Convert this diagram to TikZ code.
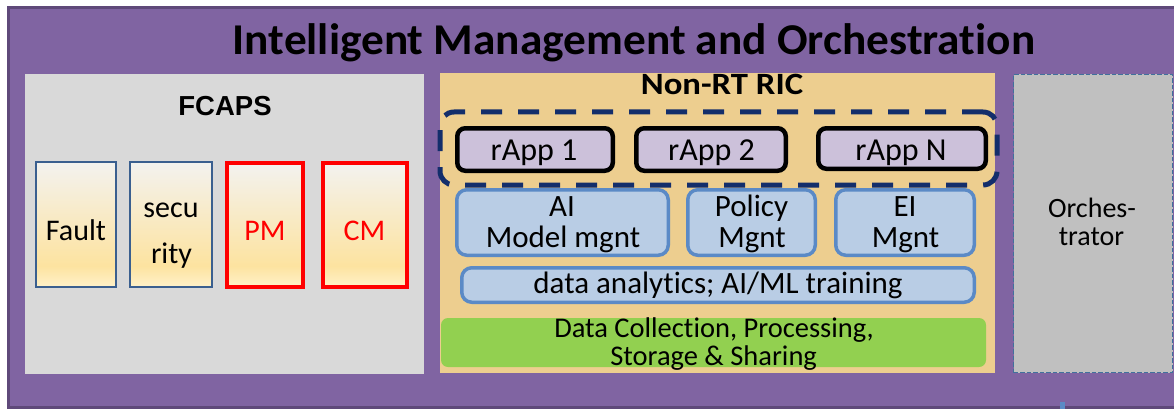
\documentclass[tikz,border=0pt]{standalone}
\usepackage{fontspec}
\setmainfont{Carlito}[Ligatures=NoCommon]
\newfontfamily\arialfont{Liberation Sans}
\definecolor{purp}{HTML}{8064A2}
\definecolor{purpdark}{HTML}{5F497A}
\definecolor{fcgray}{HTML}{D9D9D9}
\definecolor{ricTan}{HTML}{EDCE8F}
\definecolor{orchgray}{HTML}{C0C0C0}
\definecolor{orchline}{HTML}{41719C}
\definecolor{navy}{HTML}{132E6B}
\definecolor{lav}{HTML}{CCC1DA}
\definecolor{lblue}{HTML}{B9CDE5}
\definecolor{mblue}{HTML}{5B8AC6}
\definecolor{dblue}{HTML}{3A5F8F}
\definecolor{grn}{HTML}{92D050}
\definecolor{gtop}{HTML}{F3F2EF}
\definecolor{gyel}{HTML}{FDE3A0}
\definecolor{gbot}{HTML}{FEF1C9}
\pgfdeclareverticalshading{fcapsgrad}{100bp}{color(0bp)=(gbot); color(25bp)=(gbot); color(33.5bp)=(gyel); color(75bp)=(gtop); color(100bp)=(gtop)}
\tikzset{
  plain/.style={inner sep=0pt, outer sep=0pt},
  txt/.style={anchor=base, inner sep=0pt, outer sep=0pt},
  fsize/.style={font=\fontsize{#1}{#1}\selectfont},
  outerbox/.style={plain, fill=purp, draw=purpdark, line width=3pt},
  fcapsbox/.style={plain, fill=fcgray},
  ricbox/.style={plain, fill=ricTan},
  orchbox/.style={plain, fill=orchgray, draw=orchline, line width=1.3pt, dash pattern=on 4.5pt off 2pt},
  fcitem/.style={plain, shade, shading=fcapsgrad, draw=dblue, line width=2pt},
  fcred/.style={plain, shade, shading=fcapsgrad, draw=red, line width=4pt},
  groupbox/.style={plain, draw=navy, line width=5pt, dash pattern=on 21pt off 16pt, rounded corners=14pt},
  rappbox/.style={plain, fill=lav, draw=black, line width=4.5pt, rounded corners=8pt},
  mgntbox/.style={plain, fill=lblue, draw=mblue, line width=3.5pt, rounded corners=10pt},
  datacoll/.style={plain, fill=grn, rounded corners=7pt},
}
\begin{document}
\begin{tikzpicture}[x=1pt,y=-1pt]
\clip (0,0) rectangle (1174,409);
% containers
\node[outerbox, minimum width=1182pt, minimum height=399pt] (outer) at (599,207.5) {};
\node[fcapsbox, minimum width=399pt, minimum height=300pt] (fcaps) at (224.5,224) {};
\node[ricbox, minimum width=555pt, minimum height=300pt] (ric) at (717.5,223) {};
\node[orchbox, minimum width=159pt, minimum height=298pt] (orch) at (1093,223.5) {};
% title texts
\node[txt, font=\bfseries\fontsize{44}{44}\selectfont] (title) at (634,55) {\scalebox{1.03}[1]{Intelligent Management and Orchestration}};
\node[txt, font=\arialfont\bfseries\fontsize{27.5}{27.5}\selectfont] (fcapsT) at (225,115) {FCAPS};
\node[txt, font=\bfseries\fontsize{31}{31}\selectfont] (ricT) at (722,95) {\scalebox{1.12}[1]{Non-RT RIC}};
% FCAPS items
\node[fcitem, minimum width=80pt, minimum height=125pt] (fault) at (76,224.5) {};
\node[fcitem, minimum width=82pt, minimum height=125pt] (secur) at (171,224.5) {};
\node[fcred, minimum width=76pt, minimum height=124pt] (pm) at (265,225) {};
\node[fcred, minimum width=84pt, minimum height=124pt] (cm) at (365,225) {};
\node[txt, fsize=30] (faultT) at (76,240) {Fault};
\node[txt, fsize=30] (securT1) at (171,217) {secu};
\node[txt, fsize=30] (securT2) at (171.5,263) {rity};
\node[txt, fsize=30, text=red] (pmT) at (265,240) {PM};
\node[txt, fsize=30, text=red] (cmT) at (364.5,240) {CM};
% rApps
\node[groupbox, minimum width=557pt, minimum height=73pt] (rappgroup) at (718.5,148.5) {};
\node[rappbox, minimum width=155.5pt, minimum height=42.5pt] (rapp1) at (535,149.5) {};
\node[rappbox, minimum width=149.5pt, minimum height=42.5pt] (rapp2) at (711,149.5) {};
\node[rappbox, minimum width=167.5pt, minimum height=40.5pt] (rappN) at (902,148.5) {};
\node[txt, fsize=32] (rapp1T) at (534,160) {rApp 1};
\node[txt, fsize=32] (rapp2T) at (711.5,160) {rApp 2};
\node[txt, fsize=32] (rappNT) at (901,160) {rApp N};
% management boxes
\node[mgntbox, minimum width=211.5pt, minimum height=65.5pt] (aimm) at (562.5,222.5) {};
\node[mgntbox, minimum width=127.5pt, minimum height=65.5pt] (polm) at (751.5,222.5) {};
\node[mgntbox, minimum width=138.5pt, minimum height=65.5pt] (eim) at (905,222.5) {};
\node[mgntbox, minimum width=512.5pt, minimum height=34.5pt] (dana) at (718,285) {};
\node[txt, fsize=31] (aimmT1) at (562,216) {AI};
\node[txt, fsize=31] (aimmT2) at (563,247) {Model mgnt};
\node[txt, fsize=31] (polmT1) at (751.5,216) {Policy};
\node[txt, fsize=31] (polmT2) at (752,247) {Mgnt};
\node[txt, fsize=31] (eimT1) at (905,216) {EI};
\node[txt, fsize=31] (eimT2) at (905.5,247) {Mgnt};
\node[txt, fsize=31] (danaT) at (718,293) {data analytics; AI/ML training};
% data collection
\node[datacoll, minimum width=545pt, minimum height=49pt] (dcoll) at (713.5,342.5) {};
\node[txt, fsize=28.5] (dcollT1) at (714,337) {Data Collection, Processing,};
\node[txt, fsize=28.5] (dcollT2) at (713.6,365) {Storage \& Sharing};
% orchestrator text
\node[txt, fsize=28] (orchT1) at (1092,217) {Orches-};
\node[txt, fsize=28] (orchT2) at (1091.5,245) {trator};
% small fragment at the bottom edge
\fill[mblue] (1060,402) rectangle (1065,409);
\end{tikzpicture}
\end{document}
